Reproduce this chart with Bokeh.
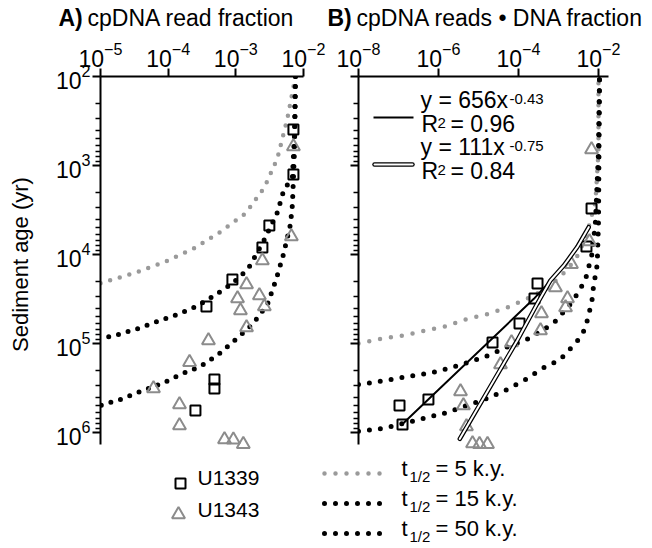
from math import pi
from bokeh.plotting import figure
from bokeh.models import Range1d, FixedTicker, CustomJSTickFormatter, Label
from bokeh.layouts import column, row
from bokeh.embed import file_html
from bokeh.resources import INLINE

FONT = "Liberation Sans"
GRAY_PT = "#8c8c8c"
GRAY_LINE = "#9a9a9a"

# ---------------- data ----------------
# Panel A: cpDNA read fraction vs sediment age (yr)
a_u1339_frac = [7.1e-3, 7.1e-3, 3.13e-3, 2.47e-3, 8.9e-4, 3.68e-4, 4.83e-4, 4.83e-4, 2.53e-4]
a_u1339_age = [394, 1262, 4721, 8340, 1.91e4, 3.84e4, 2.54e5, 3.2e5, 5.66e5]
a_u1343_frac = [7.1e-3, 6.62e-3, 2.47e-3, 1.44e-3, 1.06e-3, 2.23e-3, 1.17e-3, 2.64e-3, 1.44e-3,
                3.94e-4, 2.07e-4, 6.07e-5, 1.47e-4, 1.47e-4, 6.8e-4, 9.2e-4, 1.29e-3]
a_u1343_age = [612, 6280, 1.17e4, 2.17e4, 3.12e4, 2.89e4, 4.26e4, 3.84e4, 6.6e4,
               9.25e4, 1.63e5, 3.2e5, 4.84e5, 8.34e5, 1.2e6, 1.21e6, 1.36e6]

a_t5_frac = [7.6e-3, 5.78e-3, 4.11e-3, 2.64e-3, 1.39e-3, 5.73e-4, 2.37e-4, 8.53e-5, 3.07e-5, 1.0e-5]
a_t5_age = [100, 296, 834, 1767, 3460, 5660, 8570, 1.23e4, 1.63e4, 2.1e4]
a_t15_frac = [7.6e-3, 7.4e-3, 6.86e-3, 5.05e-3, 4.11e-3, 2.56e-3, 1.53e-3, 8.9e-4, 4.83e-4,
              2.62e-4, 1.37e-4, 6.95e-5, 3.64e-5, 1.85e-5, 1.0e-5]
a_t15_age = [100, 415, 1330, 1960, 3375, 7140, 1.44e4, 2.12e4, 2.89e4,
             3.84e4, 4.72e4, 5.66e4, 6.78e4, 7.92e4, 8.8e4]
a_t50_frac = [7.6e-3, 7.35e-3, 6.86e-3, 6.41e-3, 5.05e-3, 3.98e-3, 2.93e-3, 1.76e-3, 9.2e-4,
              5.53e-4, 3.0e-4, 1.52e-4, 8.24e-5, 3.9e-5, 1.97e-5, 1.0e-5]
a_t50_age = [100, 696, 2740, 4600, 1e4, 1.86e4, 3.65e4, 6.12e4, 9.5e4,
             1.33e5, 1.81e5, 2.23e5, 2.81e5, 3.46e5, 4.26e5, 4.97e5]

# Panel B: cpDNA reads x DNA fraction vs sediment age (yr)
b_u1339_frac = [6.7e-3, 5.0e-3, 2.99e-4, 2.51e-4, 1.06e-4, 2.24e-5, 5.6e-7, 1.06e-7, 1.26e-7]
b_u1339_age = [3040, 8130, 2.12e4, 3.12e4, 5.96e4, 9.75e4, 4.26e5, 4.97e5, 8.13e5]
b_u1343_frac = [6.7e-3, 5.96e-3, 2.11e-3, 8.4e-4, 1.68e-3, 1.5e-3, 3.76e-4, 3.55e-4, 6.7e-5,
                3.55e-5, 3.55e-6, 4.2e-6, 5.0e-6, 7.1e-6, 1.06e-5, 1.68e-5]
b_u1343_age = [661, 7140, 1.29e4, 2.35e4, 3.12e4, 3.94e4, 4.6e4, 7.14e4, 9.75e4,
               1.72e5, 3.46e5, 4.97e5, 8.57e5, 1.33e6, 1.36e6, 1.36e6]

b_t5_frac = [1.0e-8, 3.9e-8, 1.33e-7, 4.73e-7, 1.5e-6, 4.73e-6, 1.58e-5, 5.3e-5, 1.68e-4,
             5.3e-4, 1.68e-3, 3.16e-3, 5.3e-3, 8.4e-3, 1.0e-2, 1.0e-2]
b_t5_age = [1e5, 8.8e4, 8.13e4, 7.14e4, 6.44e4, 5.37e4, 4.72e4, 3.94e4, 3.12e4,
            2.41e4, 1.47e4, 1e4, 5520, 2540, 696, 100]
b_t15_frac = [1.0e-8, 4.73e-8, 1.68e-7, 5.6e-7, 1.78e-6, 5.6e-6, 1.78e-5, 5.6e-5, 1.78e-4,
              7.5e-4, 1.12e-3, 2.37e-3, 3.16e-3, 4.2e-3, 5.3e-3, 5.96e-3, 6.96e-3, 8.4e-3,
              1.0e-2, 1.06e-2]
b_t15_age = [2.9e5, 2.6e5, 2.35e5, 2.17e5, 1.91e5, 1.63e5, 1.36e5, 1.08e5, 8.8e4,
             5.96e4, 4.84e4, 3.29e4, 2.6e4, 2.12e4, 1.63e4, 1.26e4, 9750, 4260,
             696, 100]
b_t50_frac = [1.0e-8, 4.2e-8, 2.66e-7, 1.65e-6, 5.2e-6, 1.65e-5, 5.2e-5, 1.5e-4, 3.9e-4,
              1.12e-3, 1.58e-3, 2.51e-3, 3.9e-3, 4.93e-3, 5.6e-3, 6.7e-3, 7.5e-3, 9.3e-3,
              1.0e-2, 1.06e-2]
b_t50_age = [9.7e5, 9.0e5, 7.33e5, 5.96e5, 4.97e5, 4.15e5, 3.29e5, 2.54e5, 1.91e5,
             1.51e5, 1.26e5, 1.03e5, 7.92e4, 6.28e4, 4.72e4, 3.65e4, 2.29e4, 1.29e4,
             4260, 100]

# power-law fit lines (panel B)
fit1_frac = [1.24e-7, 2.42e-4, 7.6e-4, 2.42e-3, 6.07e-3]
fit1_age = [8.07e5, 3.15e4, 1.8e4, 9420, 4930]
fit2_frac = [3.41e-6, 9.3e-5, 2.93e-4, 6.3e-4, 1.36e-3, 2.93e-3, 5.7e-3]
fit2_age = [1.18e6, 9.25e4, 3.58e4, 1.96e4, 1.33e4, 8280, 4930]

x_ticks_a = [1e-5, 1e-4, 1e-3, 1e-2]
x_ticks_b = [1e-8, 1e-6, 1e-4, 1e-2]
y_ticks = [1e2, 1e3, 1e4, 1e5, 1e6]
y_minor = [m * 10 ** e for e in range(2, 7) for m in range(2, 10)]

half_lives = ["5", "15", "50"]

# ---------------- geometry helpers (page pixels -> data) ----------------
def page_y(py):
    return 10 ** (2 + (py - 76) / 89.0)

def a_x(px):
    return 10 ** (-5 + (px - 100) / (203 / 3.0))

def b_x(px):
    return 10 ** (-8 + (px - 358) / 40.0)


TOP_STRIP = 36


def panel(width, left, right, xr, xticks, ylabels):
    p = figure(width=width, height=412 + 40 - TOP_STRIP, x_axis_type="log",
               y_axis_type="log", x_range=xr, y_range=Range1d(1.68e6, 1e2),
               x_axis_location="above", output_backend="svg", toolbar_location=None,
               title=None, min_border_left=left, min_border_right=right,
               min_border_top=76 - TOP_STRIP, min_border_bottom=0)
    p.xgrid.visible = False
    p.ygrid.visible = False
    p.outline_line_color = None
    xa = p.xaxis[0]
    xa.ticker = FixedTicker(ticks=xticks)
    xa.axis_line_width = 2
    xa.major_tick_line_width = 2
    xa.major_tick_out = 8
    xa.major_tick_in = 0
    xa.minor_tick_out = 0
    xa.minor_tick_in = 0
    xa.major_label_text_font = FONT
    xa.major_label_text_font_size = "23px"
    xa.major_label_text_color = "black"
    xa.major_label_standoff = 2
    ya = p.yaxis[0]
    ya.ticker = FixedTicker(ticks=y_ticks, minor_ticks=y_minor)
    if not ylabels:
        ya.formatter = CustomJSTickFormatter(code="return ''")
    ya.major_label_text_font = FONT
    ya.major_label_text_font_size = "23px"
    ya.major_label_text_color = "black"
    ya.major_label_standoff = 2
    ya.bounds = (1e2, 1.36e6)
    ya.axis_line_width = 2
    ya.major_tick_line_width = 2
    ya.major_tick_out = 8
    ya.major_tick_in = 0
    ya.minor_tick_line_width = 1.5
    ya.minor_tick_out = 5
    ya.minor_tick_in = 0
    return p


def dotted(p, xs, ys, color, width, dash):
    p.line(xs, ys, line_color=color, line_width=width, line_dash=dash,
           line_cap="round")


def lab(p, x, y, text, size, **kw):
    p.add_layout(Label(x=x, y=y, text=text, text_font=FONT, text_font_size=size,
                       text_color="black", **kw))


# ---------------- title strip ----------------
pt = figure(width=646, height=TOP_STRIP, x_range=Range1d(0, 646),
            y_range=Range1d(TOP_STRIP, 0), x_axis_type=None, y_axis_type=None,
            output_backend="svg", toolbar_location=None, title=None, min_border=0)
pt.xgrid.visible = False
pt.ygrid.visible = False
pt.outline_line_color = None
lab(pt, 58, 30, "A)", "23px", text_font_style="bold")
lab(pt, 87, 30, "cpDNA read fraction", "23px")
lab(pt, 327, 30, "B)", "23px", text_font_style="bold")
lab(pt, 356, 30, "cpDNA reads \u2022 DNA fraction", "23px")

# ---------------- panel A ----------------
p1 = panel(326, 100, 23, Range1d(1e-5, 1e-2), x_ticks_a, True)
ya1 = p1.yaxis[0]
ya1.axis_label = "Sediment age (yr)"
ya1.axis_label_text_font = FONT
ya1.axis_label_text_font_size = "22px"
ya1.axis_label_text_font_style = "normal"
ya1.axis_label_text_color = "black"
ya1.axis_label_standoff = 20
dotted(p1, a_t5_frac, a_t5_age, GRAY_LINE, 4.5, "0 10")
dotted(p1, a_t15_frac, a_t15_age, "black", 5, "0 10")
dotted(p1, a_t50_frac, a_t50_age, "black", 5, "0 10")
p1.scatter(a_u1339_frac, a_u1339_age, marker="square", size=10, line_width=2,
           line_color="black", fill_color=None)
p1.scatter(a_u1343_frac, a_u1343_age, marker="triangle", size=13, line_width=2,
           line_color=GRAY_PT, fill_color=None)

# ---------------- panel B ----------------
p2 = panel(320, 32, 38, Range1d(1e-8, 10 ** -1.75), x_ticks_b, False)
dotted(p2, b_t5_frac, b_t5_age, GRAY_LINE, 4.5, "0 11")
dotted(p2, b_t15_frac, b_t15_age, "black", 5, "0 11")
dotted(p2, b_t50_frac, b_t50_age, "black", 5, "0 11")
p2.scatter(b_u1339_frac, b_u1339_age, marker="square", size=10, line_width=2,
           line_color="black", fill_color=None)
p2.scatter(b_u1343_frac, b_u1343_age, marker="triangle", size=13, line_width=2,
           line_color=GRAY_PT, fill_color=None)
p2.line(fit1_frac, fit1_age, line_color="black", line_width=2, line_join="round")
p2.line(fit2_frac, fit2_age, line_color="black", line_width=4.5, line_join="round",
        line_cap="round")
p2.line(fit2_frac, fit2_age, line_color="white", line_width=2, line_join="round",
        line_cap="round")

# legend of the fits
p2.line([b_x(373), b_x(413)], [page_y(117)] * 2, line_color="black", line_width=2)
p2.line([b_x(374), b_x(412)], [page_y(164)] * 2, line_color="black", line_width=4.5,
        line_cap="round")
p2.line([b_x(374), b_x(412)], [page_y(164)] * 2, line_color="white", line_width=2,
        line_cap="round")
lab(p2, b_x(420), page_y(113), "y = 656x", "23px")
lab(p2, b_x(509), page_y(104), "-0.43", "15px")
lab(p2, b_x(421), page_y(137), "R", "23px")
lab(p2, b_x(437), page_y(128), "2", "15px")
lab(p2, b_x(450), page_y(137), "= 0.96", "23px")
lab(p2, b_x(420), page_y(160), "y = 111x", "23px")
lab(p2, b_x(509), page_y(151), "-0.75", "15px")
lab(p2, b_x(421), page_y(184), "R", "23px")
lab(p2, b_x(437), page_y(175), "2", "15px")
lab(p2, b_x(450), page_y(184), "= 0.84", "23px")

# ---------------- legend strip ----------------
p3 = figure(width=646, height=94, x_range=Range1d(0, 646), y_range=Range1d(546, 452),
            x_axis_type=None, y_axis_type=None, output_backend="svg",
            toolbar_location=None, title=None, min_border=0)
p3.xgrid.visible = False
p3.ygrid.visible = False
p3.outline_line_color = None
p3.scatter([180], [483], marker="square", size=10, line_width=2, line_color="black",
           fill_color=None)
p3.scatter([178], [514], marker="triangle", size=13, line_width=2, line_color=GRAY_PT,
           fill_color=None)
lab(p3, 197, 488, "U1339", "21px")
lab(p3, 197, 520, "U1343", "21px")

leg_colors = [GRAY_LINE, "black", "black"]
leg_widths = [4.5, 5, 5]
for i, (hl, c, w) in enumerate(zip(half_lives, leg_colors, leg_widths)):
    yb = 480 + 30 * i
    p3.line([324, 390], [yb - 7] * 2, line_color=c, line_width=w, line_dash="0 11",
            line_cap="round")
    lab(p3, 401, yb, "t", "22px")
    lab(p3, 409, yb + 4, "1/2", "15px")
    lab(p3, 435, yb, "= %s k.y." % hl, "22px")

layout = column(pt, row(p1, p2), p3)
open("out.html", "w").write(file_html(layout, INLINE))
